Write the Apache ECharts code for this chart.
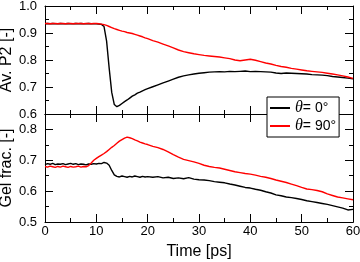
<!DOCTYPE html>
<html>
<head>
<meta charset="utf-8">
<script src="https://cdn.jsdelivr.net/npm/echarts@6/dist/echarts.min.js"></script>
<style>
html,body{margin:0;padding:0;background:#fff;}
#c{width:360px;height:262px;}
</style>
</head>
<body>
<div id="c"></div>
<script>
// Time [ps]
const time = [0,0.5,1,1.5,2,2.5,3,3.5,4,4.5,5,5.5,6,6.5,7,7.5,8,8.5,9,9.5,10,10.5,
  11,11.5,12,12.5,13,13.5,14,14.5,15,15.5,16,16.5,17,17.5,18,18.5,19,19.5,20,
  21,22,23,24,25,26,27,28,29,30,31,32,33,34,35,36,37,38,39,40,
  41,42,43,44,45,46,47,48,49,50,51,52,53,54,55,56,57,58,59,60];

// Av. P2, theta = 0
const p2Theta0 = [0.934,0.935,0.934,0.935,0.934,0.934,0.935,0.934,0.934,0.935,0.934,0.934,0.935,0.934,0.935,0.934,0.934,0.935,0.934,0.934,0.934,0.933,
  0.932,0.924,0.870,0.770,0.680,0.635,0.627,0.632,0.639,0.646,0.652,0.659,0.666,0.671,0.677,0.681,0.686,0.690,0.694,
  0.701,0.708,0.715,0.722,0.729,0.736,0.741,0.745,0.748,0.751,0.753,0.755,0.756,0.757,0.756,0.758,0.757,0.758,0.759,0.757,
  0.758,0.757,0.756,0.755,0.752,0.750,0.752,0.751,0.750,0.749,0.748,0.746,0.745,0.744,0.742,0.739,0.737,0.735,0.733,0.730];

// Av. P2, theta = 90
const p2Theta90 = [0.935,0.935,0.934,0.935,0.935,0.934,0.935,0.935,0.934,0.935,0.935,0.934,0.935,0.935,0.935,0.934,0.935,0.935,0.934,0.935,0.935,0.934,
  0.933,0.931,0.928,0.924,0.920,0.916,0.913,0.910,0.907,0.905,0.902,0.900,0.898,0.895,0.892,0.889,0.886,0.882,0.879,
  0.872,0.866,0.859,0.852,0.845,0.837,0.831,0.827,0.823,0.820,0.817,0.815,0.813,0.811,0.808,0.805,0.800,0.797,0.800,0.803,
  0.799,0.794,0.789,0.785,0.780,0.776,0.773,0.769,0.766,0.763,0.760,0.758,0.756,0.754,0.751,0.748,0.745,0.741,0.737,0.732];

// Gel fraction, theta = 0
const gelTheta0 = [0.686,0.689,0.687,0.690,0.686,0.688,0.687,0.689,0.686,0.688,0.690,0.687,0.689,0.686,0.688,0.687,0.685,0.688,0.687,0.689,0.688,0.690,
  0.689,0.693,0.691,0.684,0.667,0.653,0.648,0.646,0.649,0.647,0.645,0.648,0.646,0.649,0.647,0.645,0.648,0.646,0.647,
  0.645,0.647,0.643,0.645,0.641,0.643,0.640,0.644,0.639,0.637,0.636,0.634,0.631,0.629,0.627,0.623,0.620,0.616,0.612,0.610,
  0.606,0.603,0.598,0.594,0.588,0.585,0.581,0.579,0.576,0.573,0.569,0.566,0.563,0.560,0.557,0.553,0.549,0.545,0.539,0.541];

// Gel fraction, theta = 90
const gelTheta90 = [0.680,0.678,0.681,0.679,0.677,0.680,0.678,0.681,0.679,0.677,0.680,0.678,0.679,0.681,0.678,0.680,0.679,0.683,0.691,0.700,0.706,0.712,
  0.717,0.722,0.728,0.735,0.742,0.748,0.755,0.762,0.767,0.772,0.775,0.773,0.770,0.766,0.763,0.759,0.756,0.753,0.751,
  0.745,0.741,0.735,0.727,0.718,0.710,0.703,0.699,0.695,0.690,0.684,0.680,0.677,0.675,0.671,0.667,0.663,0.660,0.657,0.655,
  0.652,0.648,0.645,0.641,0.636,0.632,0.628,0.623,0.618,0.612,0.607,0.605,0.602,0.598,0.591,0.586,0.581,0.578,0.575,0.572];

const seriesNames = ['theta0', 'theta90'];
const legendLabels = {theta0: '{t|θ}= 0°', theta90: '{t|θ}= 90°'};
const xTicks = {min: 0, max: 60, interval: 10};
const p2Ticks = {min: 0.6, max: 1.0, interval: 0.1};
const gelTicks = {min: 0.5, max: 0.85, interval: 0.1, minorInterval: 0.05};

const FONT = 'Liberation Sans, Arial, sans-serif';
const lineStyleAxis = {color: '#000', width: 1};

function xAx(grid, pos, labels) {
  return {
    type: 'value', gridIndex: grid, position: pos,
    min: xTicks.min, max: xTicks.max, interval: xTicks.interval,
    axisLine: {show: true, onZero: false, lineStyle: lineStyleAxis},
    axisTick: {show: true, inside: true, length: 8, lineStyle: lineStyleAxis},
    minorTick: {show: true, splitNumber: 2, length: 4, lineStyle: lineStyleAxis},
    splitLine: {show: false}, minorSplitLine: {show: false},
    axisLabel: {show: labels, color: '#000', fontSize: 13, fontFamily: FONT, margin: 3},
    name: labels ? 'Time [ps]' : '',
    nameLocation: 'middle', nameGap: 22, nameMoveOverlap: false,
    nameTextStyle: {color: '#000', fontSize: 16, fontFamily: FONT}
  };
}

function yAx(grid, pos, t, interval, tickLen, minor, labels, name) {
  return {
    type: 'value', gridIndex: grid, position: pos,
    min: t.min, max: t.max, interval: interval,
    axisLine: {show: true, onZero: false, lineStyle: lineStyleAxis},
    axisTick: {show: true, inside: true, length: tickLen, lineStyle: lineStyleAxis},
    minorTick: {show: minor, splitNumber: 2, length: 4, lineStyle: lineStyleAxis},
    splitLine: {show: false}, minorSplitLine: {show: false},
    axisLabel: {
      show: labels, color: '#000', fontSize: 13, fontFamily: FONT, margin: 8,
      formatter: v => (v > 0.801 && t.max < 0.9) ? '' : v.toFixed(1)
    },
    name: name || '',
    nameLocation: 'middle', nameGap: 30, nameRotate: 90, nameMoveOverlap: false,
    nameTextStyle: {color: '#000', fontSize: 16, fontFamily: FONT}
  };
}

function pairs(arr) { return time.map((t, i) => [t, arr[i]]); }

const chart = echarts.init(document.getElementById('c'), null, {renderer: 'canvas'});
chart.setOption({
  animation: false,
  backgroundColor: '#fff',
  grid: [
    {left: 45, right: 7, top: 6, height: 108, outerBoundsMode: 'none', containLabel: false},
    {left: 45, right: 7, top: 114, height: 108, outerBoundsMode: 'none', containLabel: false}
  ],
  xAxis: [
    xAx(0, 'bottom', false),
    xAx(0, 'top', false),
    xAx(1, 'bottom', true),
    xAx(1, 'top', false)
  ],
  yAxis: [
    yAx(0, 'left', p2Ticks, p2Ticks.interval, 8, true, true, 'Av. P2 [-]'),
    yAx(0, 'right', p2Ticks, p2Ticks.interval, 8, true, false),
    yAx(1, 'left', gelTicks, gelTicks.interval, 8, false, true, 'Gel frac. [-]'),
    yAx(1, 'left', gelTicks, gelTicks.minorInterval, 4, false, false),
    yAx(1, 'right', gelTicks, gelTicks.interval, 8, false, false),
    yAx(1, 'right', gelTicks, gelTicks.minorInterval, 4, false, false)
  ],
  legend: {
    data: seriesNames,
    orient: 'vertical',
    left: 267, top: 97,
    padding: [3, 3, 3, 3],
    itemGap: 2,
    itemWidth: 20, itemHeight: 2,
    icon: 'rect',
    backgroundColor: '#fff',
    borderColor: '#000', borderWidth: 1, borderRadius: 0,
    selectedMode: false,
    formatter: n => legendLabels[n],
    textStyle: {
      color: '#000', fontSize: 14, fontFamily: FONT, lineHeight: 14,
      rich: {t: {fontStyle: 'italic', fontFamily: 'Liberation Serif, serif', fontSize: 16, lineHeight: 14, color: '#000'}}
    }
  },
  series: [
    {name: 'theta0', type: 'line', xAxisIndex: 0, yAxisIndex: 0, data: pairs(p2Theta0),
      showSymbol: false, symbol: 'none', lineStyle: {color: '#000', width: 1.4}, itemStyle: {color: '#000'}},
    {name: 'theta90', type: 'line', xAxisIndex: 0, yAxisIndex: 0, data: pairs(p2Theta90),
      showSymbol: false, symbol: 'none', lineStyle: {color: '#ff0000', width: 1.4}, itemStyle: {color: '#ff0000'}},
    {name: 'theta0', type: 'line', xAxisIndex: 2, yAxisIndex: 2, data: pairs(gelTheta0),
      showSymbol: false, symbol: 'none', lineStyle: {color: '#000', width: 1.4}, itemStyle: {color: '#000'}},
    {name: 'theta90', type: 'line', xAxisIndex: 2, yAxisIndex: 2, data: pairs(gelTheta90),
      showSymbol: false, symbol: 'none', lineStyle: {color: '#ff0000', width: 1.4}, itemStyle: {color: '#ff0000'}}
  ]
});
</script>
</body>
</html>
